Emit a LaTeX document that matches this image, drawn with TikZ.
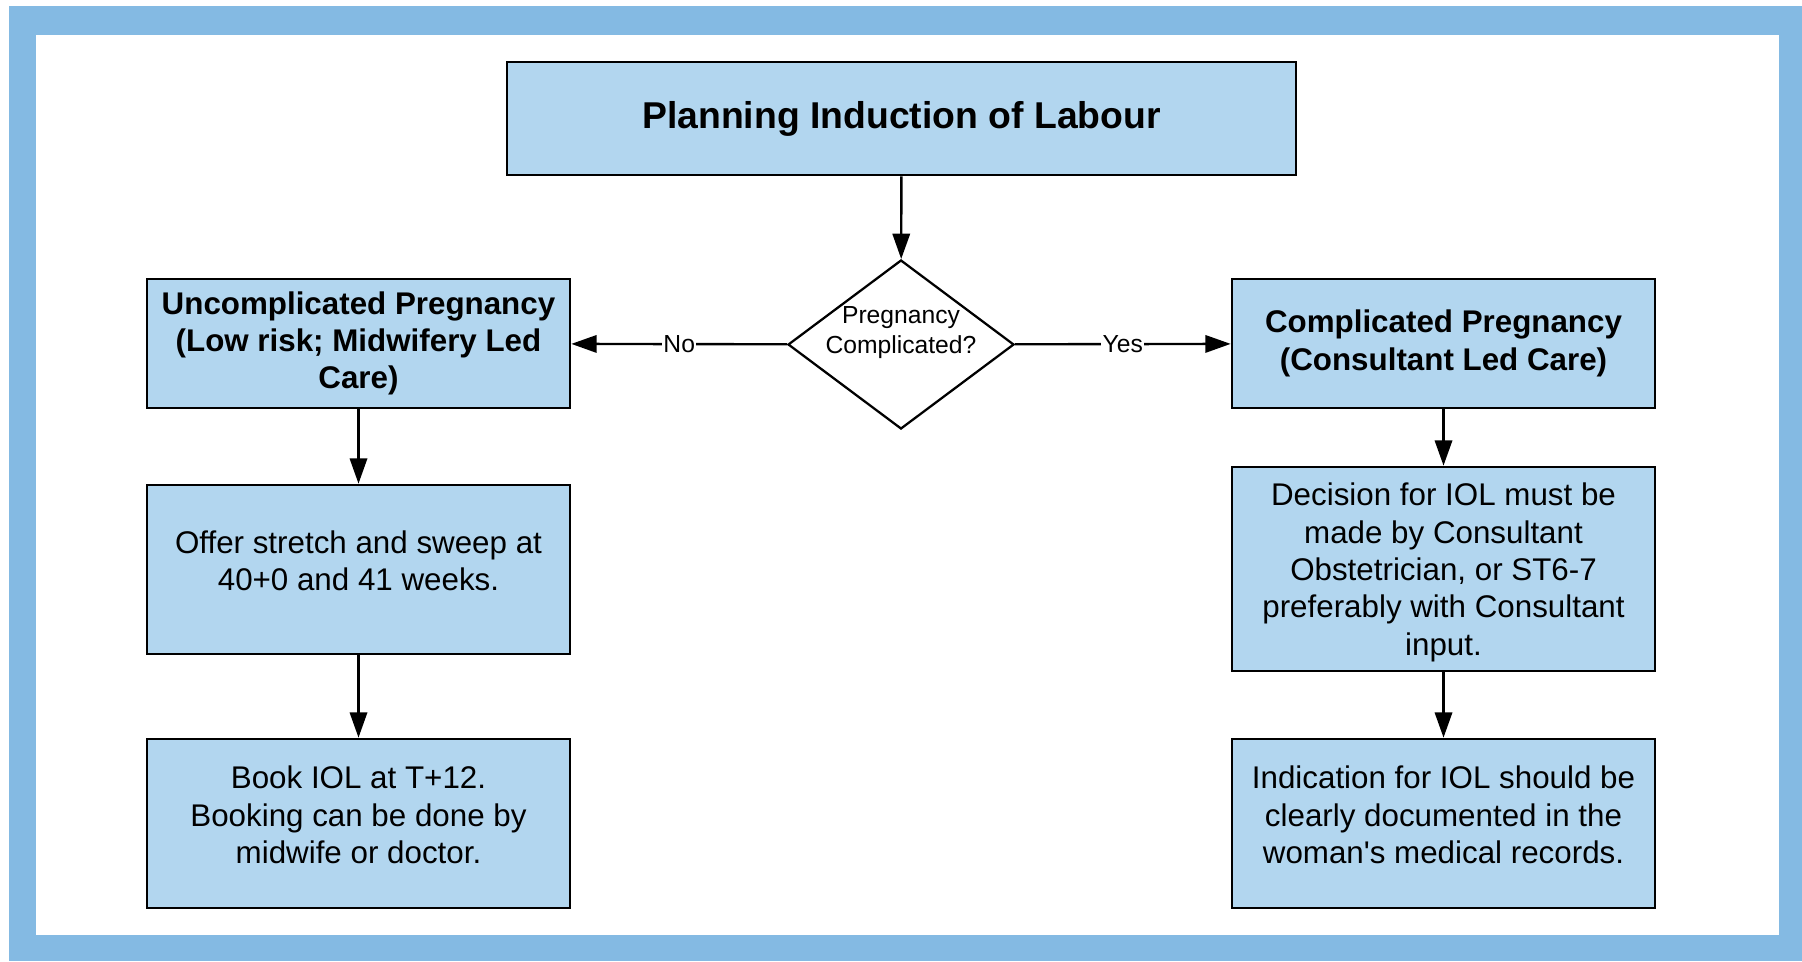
\documentclass[tikz,border=0pt]{standalone}
\usepackage{fontspec}
\setmainfont{Liberation Sans}
\usetikzlibrary{shapes.geometric,arrows.meta}

\definecolor{framecol}{RGB}{132,186,227}
\definecolor{boxcol}{RGB}{178,214,239}

\tikzset{box/.style = {rectangle,draw,fill=boxcol,line width=2pt,align=center,
    minimum width=317.25pt,inner sep=4pt,font=\fontsize{23.5}{28}\selectfont}}
\tikzset{decision/.style = {diamond,draw,fill=white,line width=1.7pt,inner sep=0pt,
    minimum width=169.5pt,minimum height=126.75pt}}
\tikzset{edge/.style = {-{Triangle[length=19pt,width=13pt]},line width=1.8pt}}
\tikzset{answer/.style = {fill=white,inner sep=1pt,font=\fontsize{18.5}{22}\selectfont}}

\begin{document}
\begin{tikzpicture}[x=0.75pt,y=-0.75pt]
  % frame
  \fill[white] (0,0) rectangle (1802,961);
  \fill[framecol] (9,6) rectangle (1802,961);
  \fill[white] (36,35) rectangle (1779,935);
  \useasboundingbox (0,0) rectangle (1802,961);

  \node[box,minimum width=591.75pt,minimum height=84.75pt,
        font=\fontsize{28}{34}\selectfont\bfseries] (title) at (901.5,118.5) {Planning Induction of Labour};
  \node[decision,label={[align=center,yshift=9pt,font=\fontsize{18.5}{22.5}\selectfont]center:Pregnancy\\Complicated?}] (q) at (901,344.5) {};

  \node[box,minimum height=96.75pt,font=\fontsize{23.5}{28}\selectfont\bfseries] (low) at (358.5,343.5)
        {Uncomplicated Pregnancy\\(Low risk; Midwifery Led\\Care)};
  \node[box,minimum height=126.75pt,text depth=13pt] (sweep) at (358.5,569.5) {Offer stretch and sweep at\\40+0 and 41 weeks.};
  \node[box,minimum height=126.75pt,text depth=13pt] (book) at (358.5,823.5) {Book IOL at T+12.\\Booking can be done by\\midwife or doctor.};

  \node[box,minimum height=96.75pt,font=\fontsize{23.5}{28}\selectfont\bfseries] (high) at (1443.5,343.5)
        {Complicated Pregnancy\\(Consultant Led Care)};
  \node[box,minimum height=153pt,text depth=-3pt] (decide) at (1443.5,569)
        {Decision for IOL must be\\made by Consultant\\Obstetrician, or ST6-7\\preferably with Consultant\\input.};
  \node[box,minimum height=126.75pt,text depth=13pt] (record) at (1443.5,823.5)
        {Indication for IOL should be\\clearly documented in the\\woman\textquotesingle s medical records.};

  \draw[edge] (title) to (q);
  \draw[edge] (q) to node[answer] {No} (low);
  \draw[edge] (q) to node[answer] {Yes} (high);
  \draw[edge] (low) to (sweep);
  \draw[edge] (sweep) to (book);
  \draw[edge] (high) to (decide);
  \draw[edge] (decide) to (record);
\end{tikzpicture}
\end{document}
